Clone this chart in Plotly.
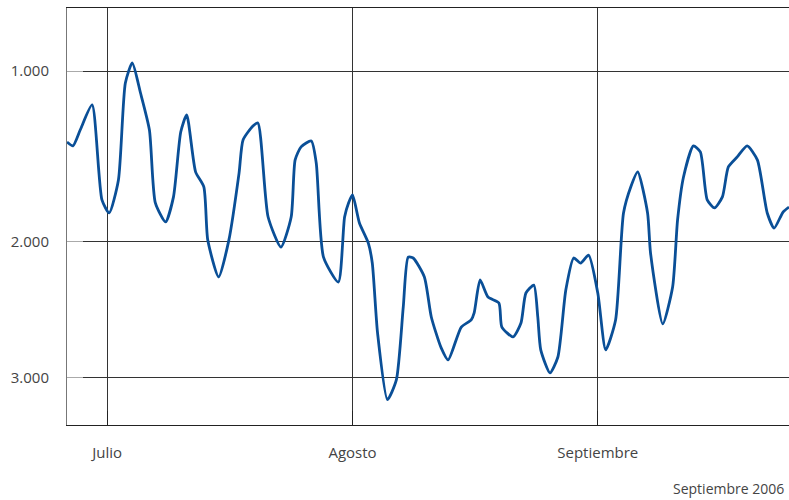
import plotly.graph_objects as go

# ---- data ----
dates = [
    "2006-06-25 22:00", "2006-06-26 16:00", "2006-06-27 14:00", "2006-06-29 02:00",
    "2006-06-30 08:00", "2006-07-01 06:00", "2006-07-02 10:00", "2006-07-03 07:00",
    "2006-07-04 04:00", "2006-07-05 05:00", "2006-07-06 08:00", "2006-07-07 02:00",
    "2006-07-08 09:00", "2006-07-09 09:00", "2006-07-10 07:00", "2006-07-11 01:00",
    "2006-07-12 04:00", "2006-07-13 05:00", "2006-07-13 17:00", "2006-07-15 02:00",
    "2006-07-16 09:00", "2006-07-17 16:00", "2006-07-18 04:00", "2006-07-19 10:00",
    "2006-07-20 01:00", "2006-07-21 08:00", "2006-07-22 23:00", "2006-07-24 06:00",
    "2006-07-24 18:00", "2006-07-25 12:00", "2006-07-26 19:00", "2006-07-27 10:00",
    "2006-07-28 08:00", "2006-07-30 05:00", "2006-07-31 00:00", "2006-07-31 12:00",
    "2006-08-01 00:00", "2006-08-01 21:00", "2006-08-03 00:00", "2006-08-03 12:00",
    "2006-08-04 04:00", "2006-08-05 10:00", "2006-08-06 13:00", "2006-08-07 10:00",
    "2006-08-08 01:00", "2006-08-08 16:00", "2006-08-10 02:00", "2006-08-10 23:00",
    "2006-08-12 05:00", "2006-08-13 02:00", "2006-08-14 18:00", "2006-08-16 00:00",
    "2006-08-16 09:00", "2006-08-17 03:00", "2006-08-18 03:00", "2006-08-19 12:00",
    "2006-08-19 21:00", "2006-08-21 07:00", "2006-08-22 07:00", "2006-08-22 22:00",
    "2006-08-23 22:00", "2006-08-24 10:00", "2006-08-24 19:00", "2006-08-25 23:00",
    "2006-08-26 23:00", "2006-08-27 23:00", "2006-08-28 23:00", "2006-08-29 20:00",
    "2006-08-30 20:00", "2006-09-01 00:00", "2006-09-02 00:00", "2006-09-03 06:00",
    "2006-09-04 06:00", "2006-09-05 04:00", "2006-09-06 01:00", "2006-09-07 07:00",
    "2006-09-07 16:00", "2006-09-09 05:00", "2006-09-10 11:00", "2006-09-11 02:00",
    "2006-09-11 20:00", "2006-09-13 02:00", "2006-09-13 23:00", "2006-09-14 20:00",
    "2006-09-15 18:00", "2006-09-16 18:00", "2006-09-17 12:00", "2006-09-18 15:00",
    "2006-09-19 21:00", "2006-09-21 04:00", "2006-09-22 10:00", "2006-09-23 07:00",
    "2006-09-24 10:00", "2006-09-25 04:00",
]
values = [
    1380, 1402, 1312, 1175,
    1728, 1811, 1604, 1060,
    960, 1112, 1312, 1747,
    1869, 1709, 1323, 1229,
    1555, 1647, 1989, 2242,
    1989, 1561, 1368, 1290,
    1273, 1837, 2036, 1837,
    1484, 1408, 1374, 1502,
    2104, 2278, 1837, 1747,
    1697, 1876, 2009, 2145,
    2651, 3175, 3016, 2457,
    2104, 2110, 2242, 2531,
    2765, 2858, 2606, 2553,
    2501, 2263, 2385, 2428,
    2606, 2681, 2576, 2356,
    2299, 2531, 2780, 2960,
    2835, 2335, 2110, 2145,
    2090, 2356, 2780, 2553,
    1811, 1647, 1555, 1811,
    2076, 2583, 2313, 1856,
    1586, 1402, 1437, 1728,
    1779, 1709, 1526, 1466,
    1402, 1484, 1811, 1909,
    1805, 1773,
]
month_ticks = ["2006-07-01", "2006-08-01", "2006-09-01"]
month_labels = ["Julio", "Agosto", "Septiembre"]
y_ticks = [1000, 2000, 3000]
y_tick_labels = ["1.000", "2.000", "3.000"]
x_range = ["2006-06-25 22:00", "2006-09-25 04:00"]
y_range = [3385, 707]          # bottom, top (inverted axis)
footer = "Septiembre 2006"

# the original chart uses a compressed (power) vertical scale
POW = 0.573


def scale(v):
    return v ** POW


fig = go.Figure()
fig.add_trace(go.Scatter(
    x=dates, y=[scale(v) for v in values],
    mode="lines",
    line=dict(color="#0a4f97", width=2.8, shape="spline", smoothing=0.6),
    hoverinfo="skip",
))

font = dict(family="Open Sans, Lato, sans-serif", size=15, color="#444")

fig.update_layout(
    width=789, height=500, autosize=False,
    margin=dict(l=67, r=0, t=8, b=75),
    paper_bgcolor="white", plot_bgcolor="white",
    showlegend=False,
    font=font,
    xaxis=dict(
        type="date", range=x_range,
        tickmode="array", tickvals=month_ticks, ticktext=month_labels,
        showgrid=True, gridcolor="#333", gridwidth=1,
        showline=True, linecolor="#222", linewidth=1, mirror=True,
        ticks="inside", ticklen=14, tickcolor="#222",
        ticklabelstandoff=14,
        tickfont=font, zeroline=False,
    ),
    yaxis=dict(
        range=[scale(y_range[0]), scale(y_range[1])],
        tickmode="array", tickvals=[scale(v) for v in y_ticks], ticktext=y_tick_labels,
        showgrid=True, gridcolor="#333", gridwidth=1,
        showline=True, linecolor="#777", linewidth=1, mirror=False,
        ticks="inside", ticklen=16, tickcolor="#aaa",
        ticklabelstandoff=14,
        tickfont=font, zeroline=False,
    ),
    annotations=[dict(
        text=footer, xref="paper", yref="paper", x=1, y=0,
        xanchor="right", yanchor="top", yshift=-52, xshift=-3,
        showarrow=False, font=dict(family="Open Sans, Lato, sans-serif", size=14, color="#444"),
    )],
)

fig.write_html(
    "out.html",
    config={"responsive": False, "displayModeBar": False},
    post_script="document.body.style.margin='0';document.body.style.overflow='hidden';",
)
